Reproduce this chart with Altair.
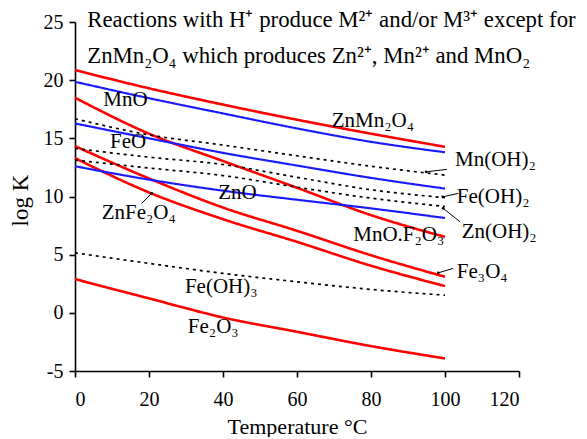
import altair as alt
import pandas as pd

# ---- data ----
temps = [0, 20, 40, 60, 80, 100]

# red: spinels / mixed oxides
znmn2o4 = [20.87, 19.3, 17.9, 16.6, 15.4, 14.27]
mno_fe2o3 = [18.49, 15.4, 13.05, 10.75, 8.4, 6.53]
fe3o4 = [14.33, 11.55, 9.05, 7.05, 4.95, 3.1]
znfe2o4 = [13.3, 10.35, 8.05, 6.1, 4.05, 2.3]
fe2o3 = [2.9, 1.24, -0.4, -1.63, -2.86, -3.92]

# blue: monoxides
mno = [19.86, 18.45, 17.14, 15.85, 14.7, 13.8]
feo = [16.28, 15.0, 13.75, 12.66, 11.6, 10.68]
zno = [12.6, 11.45, 10.5, 9.72, 8.98, 8.15]

# black dotted: hydroxides
mnoh2 = [16.68, 15.3, 14.42, 13.5, 12.6, 11.84]
feoh2 = [14.13, 13.38, 12.75, 11.65, 10.58, 9.9]
znoh2 = [13.13, 12.45, 11.8, 10.8, 9.86, 9.14]
feoh3 = [5.16, 4.25, 3.39, 2.67, 2.01, 1.52]

series = [
    ("ZnMn2O4", "red", znmn2o4),
    ("MnO.Fe2O3", "red", mno_fe2o3),
    ("Fe3O4", "red", fe3o4),
    ("ZnFe2O4", "red", znfe2o4),
    ("Fe2O3", "red", fe2o3),
    ("MnO", "blue", mno),
    ("FeO", "blue", feo),
    ("ZnO", "blue", zno),
    ("Mn(OH)2", "dot", mnoh2),
    ("Fe(OH)2", "dot", feoh2),
    ("Zn(OH)2", "dot", znoh2),
    ("Fe(OH)3", "dot", feoh3),
]

# curve labels (data coordinates)
label_text = ["MnO", "FeO", "ZnO", "ZnFe₂O₄", "ZnMn₂O₄", "Mn(OH)₂", "Fe(OH)₂",
              "Zn(OH)₂", "MnO.F₂O₃", "Fe₃O₄", "Fe(OH)₃", "Fe₂O₃"]
label_x = [7.65, 9.46, 38.7, 7.2, 69.4, 102.7, 103.2, 104.5, 75.2, 103.2, 29.7, 30.5]
label_y = [18.28, 14.7, 10.26, 8.54, 16.5, 13.13, 9.97, 6.96, 6.68, 3.53, 2.24, -1.26]

# note lines
note_text = ["Reactions with H⁺  produce M²⁺ and/or M³⁺ except for",
             "ZnMn₂O₄ which produces Zn²⁺, Mn²⁺ and MnO₂"]
note_x = [3.3, 3.3]
note_y = [25.16, 22.1]

# pointer segments (from label to curve)
ptr_x1 = [18.0, 100.5, 103.6, 104.1, 102.2]
ptr_y1 = [9.4, 12.33, 10.27, 7.82, 3.82]
ptr_x2 = [20.7, 94.9, 99.4, 99.5, 98.2]
ptr_y2 = [10.27, 12.12, 9.97, 8.98, 3.44]

x_ticks = [0, 20, 40, 60, 80, 100, 120]
y_ticks = [-5, 0, 5, 10, 15, 20, 25]

# ---- tables ----
rows = []
for name, kind, vals in series:
    for t, v in zip(temps, vals):
        rows.append({"T": t, "logK": v, "series": name, "kind": kind})
df = pd.DataFrame(rows)
labels_df = pd.DataFrame({"text": label_text, "x": label_x, "y": label_y})
notes_df = pd.DataFrame({"text": note_text, "x": note_x, "y": note_y})
ptr_df = pd.DataFrame({"x": ptr_x1, "y": ptr_y1, "x2": ptr_x2, "y2": ptr_y2})

FONT = "Liberation Serif"
xscale = alt.Scale(domain=[0, 120], nice=False)
yscale = alt.Scale(domain=[-5, 25], nice=False)

lines = alt.Chart(df).mark_line(interpolate="monotone").encode(
    x=alt.X("T:Q", scale=xscale,
            axis=alt.Axis(values=x_ticks, title="Temperature °C",
                          titleX=222, titleY=62, titleBaseline="alphabetic",
                          titleFontSize=22)),
    y=alt.Y("logK:Q", scale=yscale,
            axis=alt.Axis(values=y_ticks, title="log K",
                          labelExpr="'' + datum.value",
                          titleX=-55, titleY=178, titleBaseline="middle",
                          titleAlign="center", titleFontSize=23)),
    detail="series:N",
    color=alt.Color("kind:N", legend=None,
                    scale=alt.Scale(domain=["red", "blue", "dot"],
                                    range=["#ff0000", "#1a1aff", "#000000"])),
    strokeDash=alt.StrokeDash("kind:N", legend=None,
                              scale=alt.Scale(domain=["red", "blue", "dot"],
                                              range=[[1, 0], [1, 0], [3, 4]])),
    strokeWidth=alt.StrokeWidth("kind:N", legend=None,
                                scale=alt.Scale(domain=["red", "blue", "dot"],
                                                range=[2.6, 1.7, 1.6])),
)

labels = alt.Chart(labels_df).mark_text(
    align="left", baseline="middle", font=FONT, fontSize=21, color="black"
).encode(x=alt.X("x:Q", scale=xscale), y=alt.Y("y:Q", scale=yscale), text="text:N")

notes = alt.Chart(notes_df).mark_text(
    align="left", baseline="middle", font=FONT, fontSize=22.8, color="black"
).encode(x=alt.X("x:Q", scale=xscale), y=alt.Y("y:Q", scale=yscale), text="text:N")

pointers = alt.Chart(ptr_df).mark_rule(color="black", strokeWidth=1).encode(
    x=alt.X("x:Q", scale=xscale), y=alt.Y("y:Q", scale=yscale),
    x2="x2:Q", y2="y2:Q")

tips = alt.Chart(ptr_df).mark_point(filled=True, color="black", size=8, opacity=1).encode(
    x=alt.X("x2:Q", scale=xscale), y=alt.Y("y2:Q", scale=yscale))

chart = alt.layer(lines, pointers, tips, labels, notes).properties(
    width=444, height=349,
    autosize=alt.AutoSizeParams(type="none"),
    padding={"left": 67, "top": 14, "right": 60, "bottom": 66},
).configure_view(stroke=None).configure_axis(
    grid=False, domainColor="black", domainWidth=1.6, tickColor="black",
    tickWidth=1.6, tickSize=6, labelFont=FONT, labelFontSize=20,
    labelColor="black", titleFont=FONT, titleColor="black",
    titleFontWeight="normal",
).configure_axisX(labelPadding=12).configure_axisY(labelPadding=6)

chart.save("out.html", embed_options={"renderer": "svg", "actions": False})
